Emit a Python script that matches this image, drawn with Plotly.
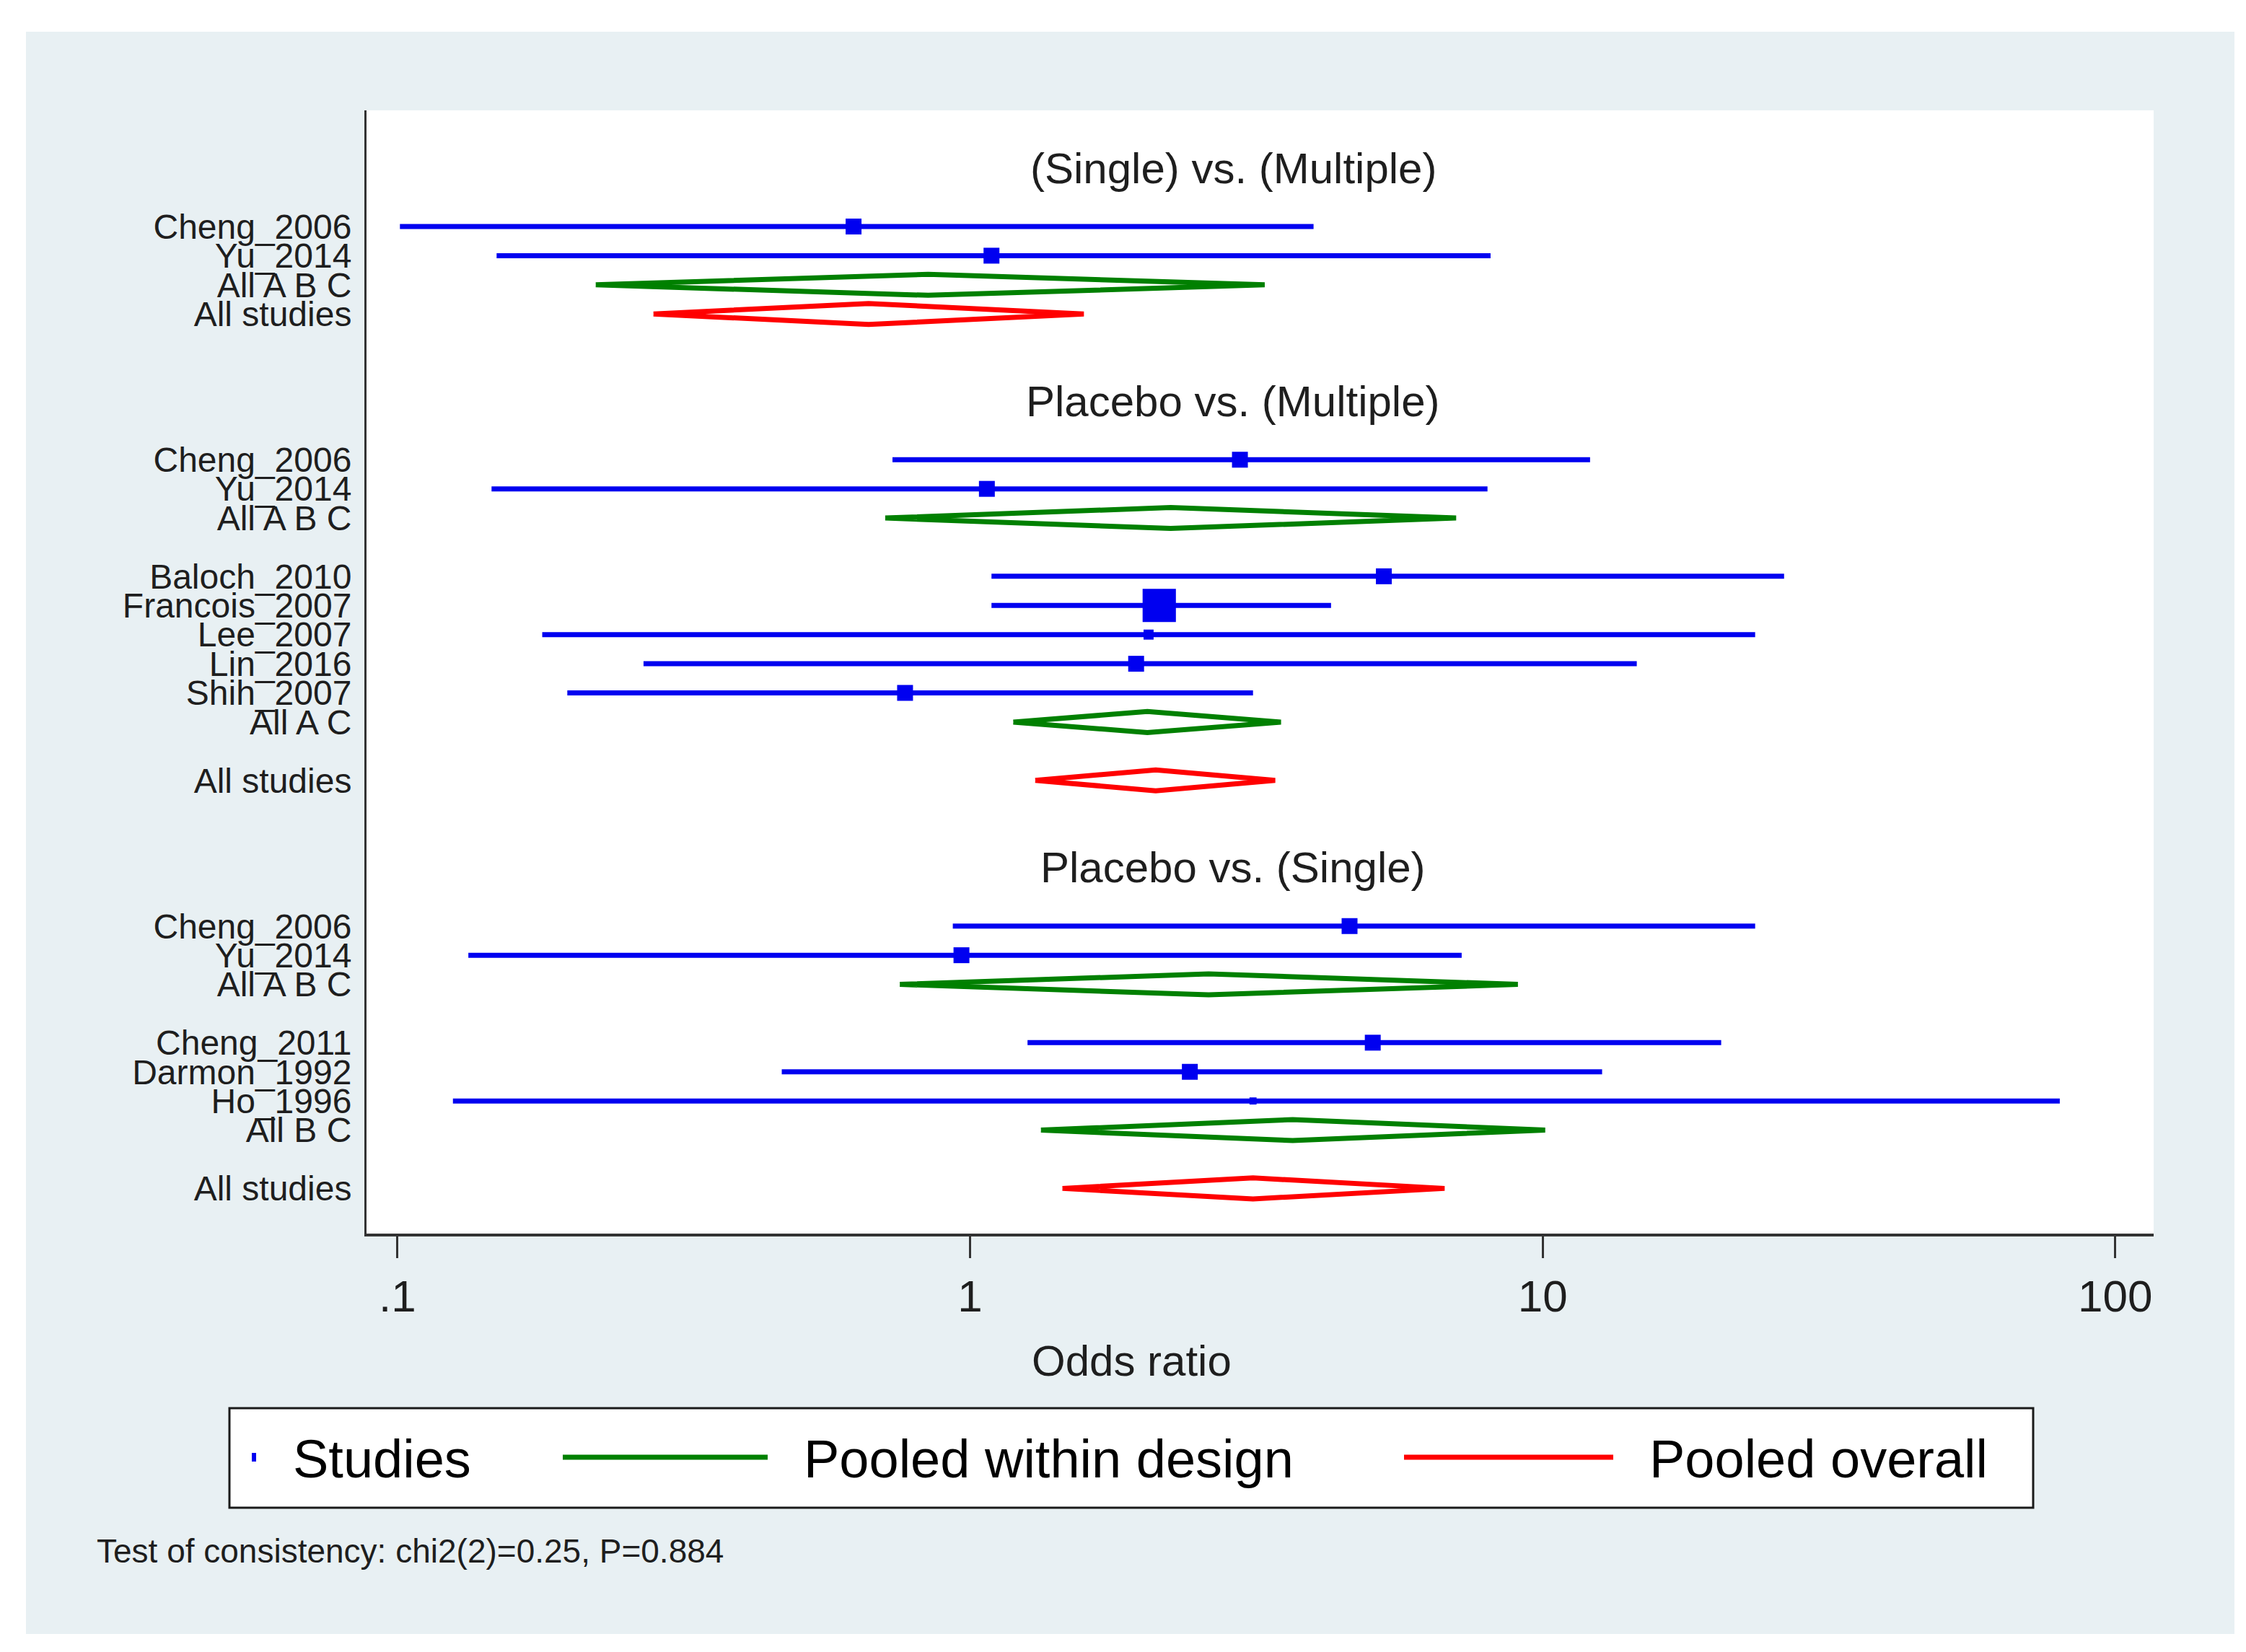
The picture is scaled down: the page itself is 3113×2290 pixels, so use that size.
#Network forest plot: odds ratios by comparison and design

import numpy as np
import plotly.graph_objects as go

#Section titles
titles = ["(Single) vs. (Multiple)", "Placebo vs. (Multiple)", "Placebo vs. (Single)"]

#(Single) vs. (Multiple), design A B C
s1_abc_names = ["Cheng_2006", "Yu_2014"]
s1_abc_or = [0.626, 1.09]
s1_abc_lo = [0.101, 0.149]
s1_abc_hi = [3.98, 8.11]
s1_abc_wt = [1.0, 1.0]
s1_abc_pool = [0.845, 0.222, 3.27]      # est, lo, hi
s1_all = [0.665, 0.280, 1.58]

#Placebo vs. (Multiple), design A B C
s2_abc_names = ["Cheng_2006", "Yu_2014"]
s2_abc_or = [2.96, 1.07]
s2_abc_lo = [0.732, 0.146]
s2_abc_hi = [12.1, 8.01]
s2_abc_wt = [1.0, 1.0]
s2_abc_pool = [2.24, 0.711, 7.06]

#Placebo vs. (Multiple), design A C
s2_ac_names = ["Baloch_2010", "Francois_2007", "Lee_2007", "Lin_2016", "Shih_2007"]
s2_ac_or = [5.28, 2.14, 2.05, 1.95, 0.77]
s2_ac_lo = [1.09, 1.09, 0.179, 0.269, 0.198]
s2_ac_hi = [26.4, 4.27, 23.5, 14.6, 3.12]
s2_ac_wt = [1.0, 4.4, 0.4, 1.0, 1.0]
s2_ac_pool = [2.04, 1.19, 3.49]
s2_all = [2.11, 1.30, 3.41]

#Placebo vs. (Single), design A B C
s3_abc_names = ["Cheng_2006", "Yu_2014"]
s3_abc_or = [4.60, 0.966]
s3_abc_lo = [0.933, 0.133]
s3_abc_hi = [23.5, 7.22]
s3_abc_wt = [1.0, 1.0]
s3_abc_pool = [2.61, 0.754, 9.05]

#Placebo vs. (Single), design B C
s3_bc_names = ["Cheng_2011", "Darmon_1992", "Ho_1996"]
s3_bc_or = [5.05, 2.42, 3.12]
s3_bc_lo = [1.26, 0.469, 0.125]
s3_bc_hi = [20.5, 12.7, 80.0]
s3_bc_wt = [1.0, 1.0, 0.2]
s3_bc_pool = [3.66, 1.33, 10.1]
s3_all = [3.12, 1.45, 6.74]

consistency = "Test of consistency: chi2(2)=0.25, P=0.884"

def group(names, ors, lo, hi, wt, pool, label):
    return dict(names=names, ors=ors, lo=lo, hi=hi, wt=wt, pool=pool, label=label)

sections = [
    (titles[0], [group(s1_abc_names, s1_abc_or, s1_abc_lo, s1_abc_hi, s1_abc_wt, s1_abc_pool, "All A B C")], s1_all),
    (titles[1], [group(s2_abc_names, s2_abc_or, s2_abc_lo, s2_abc_hi, s2_abc_wt, s2_abc_pool, "All A B C"),
                 group(s2_ac_names, s2_ac_or, s2_ac_lo, s2_ac_hi, s2_ac_wt, s2_ac_pool, "All A C")], s2_all),
    (titles[2], [group(s3_abc_names, s3_abc_or, s3_abc_lo, s3_abc_hi, s3_abc_wt, s3_abc_pool, "All A B C"),
                 group(s3_bc_names, s3_bc_or, s3_bc_lo, s3_bc_hi, s3_bc_wt, s3_bc_pool, "All B C")], s3_all),
]

BLUE = '#0000f0'
GREEN = '#008000'
RED = '#ff0000'
TXT = '#1e1e1e'
FONT = 'Liberation Sans, Arial, sans-serif'
H = 0.36   # diamond half height (rows)

#lay out rows
tickvals, ticktext, title_rows = [], [], []
ci_x, ci_y, pt_x, pt_y, pt_s = [], [], [], [], []
grn_x, grn_y, red_x, red_y = [], [], [], []

def diamond(xs, ys, est, lo, hi, r):
    xs += [lo, est, hi, est, lo, None]
    ys += [r, r - H, r, r + H, r, None]

row = -2
for title, groups, overall in sections:
    title_rows.append((row, title))
    row += 2
    for g in groups:
        for i in range(len(g["names"])):
            tickvals.append(row)
            ticktext.append(g["names"][i])
            ci_x += [g["lo"][i], g["hi"][i], None]
            ci_y += [row, row, None]
            pt_x.append(g["ors"][i])
            pt_y.append(row)
            pt_s.append(22 * np.sqrt(g["wt"][i]))
            row += 1
        tickvals.append(row)
        ticktext.append(g["label"])
        diamond(grn_x, grn_y, *g["pool"], row)
        row += 1
        if len(groups) > 1:
            row += 1
    tickvals.append(row)
    ticktext.append("All studies")
    diamond(red_x, red_y, *overall, row)
    row += 3

fig = go.Figure()

fig.add_trace(go.Scatter(x=ci_x, y=ci_y, mode='lines',
                         line=dict(color=BLUE, width=7), showlegend=False))
fig.add_trace(go.Scatter(x=pt_x, y=pt_y, mode='markers',
                         marker=dict(symbol='square', size=pt_s, color=BLUE, opacity=1, line_width=0),
                         showlegend=False))
fig.add_trace(go.Scatter(x=grn_x, y=grn_y, mode='lines',
                         line=dict(color=GREEN, width=7), showlegend=False))
fig.add_trace(go.Scatter(x=red_x, y=red_y, mode='lines',
                         line=dict(color=RED, width=7), showlegend=False))

#plot region is 508..2985 px wide, 153..1710 px tall
W, HT = 3113, 2290
L, R, T, B = 508, 2985, 153, 1710
def px(x):
    return (x - L) / (R - L)
def py(y):
    return (B - y) / (B - T)

annotations = []
for r, t in title_rows:
    annotations.append(dict(x=0.485, xref='paper', y=r, yref='y', text=t, showarrow=False,
                            xanchor='center', yanchor='middle',
                            font=dict(size=60, color=TXT, family=FONT)))

annotations.append(dict(x=px(1568), y=py(1886), xref='paper', yref='paper', text="Odds ratio",
                        xanchor='center', yanchor='middle',
                        showarrow=False, font=dict(size=60, color=TXT, family=FONT)))

#legend built by hand
leg_items = [("Studies", 404), ("Pooled within design", 1112), ("Pooled overall", 2284)]
for txt, x0 in leg_items:
    annotations.append(dict(x=px(x0), y=py(2022), xref='paper', yref='paper', text=txt,
                            xanchor='left', yanchor='middle', showarrow=False,
                            font=dict(size=74, color='#000000', family=FONT)))

annotations.append(dict(x=px(132), y=py(2150), xref='paper', yref='paper', text=consistency,
                        xanchor='left', yanchor='middle', showarrow=False,
                        font=dict(size=46, color=TXT, family=FONT)))

shapes = [
    # outer graph background
    dict(type='rect', xref='paper', yref='paper', x0=px(36), x1=px(3097), y0=py(2265), y1=py(44),
         fillcolor='#e8f0f3', line_width=0, layer='below'),
    # plot region
    dict(type='rect', xref='paper', yref='paper', x0=0, x1=1, y0=0, y1=1,
         fillcolor='white', line_width=0, layer='below'),
    # legend box
    dict(type='rect', xref='paper', yref='paper', x0=px(318), x1=px(2818), y0=py(2090), y1=py(1952),
         fillcolor='white', line=dict(color='#1a1a1a', width=3)),
    # legend keys
    dict(type='rect', xref='paper', yref='paper', xsizemode='pixel', ysizemode='pixel',
         xanchor=px(352), yanchor=py(2020), x0=-3, x1=3, y0=-6, y1=6,
         fillcolor=BLUE, line_width=0),
    dict(type='line', xref='paper', yref='paper', x0=px(780), x1=px(1064), y0=py(2020), y1=py(2020),
         line=dict(color=GREEN, width=7)),
    dict(type='line', xref='paper', yref='paper', x0=px(1946), x1=px(2236), y0=py(2020), y1=py(2020),
         line=dict(color=RED, width=7)),
]

fig.update_layout(
    width=W, height=HT,
    margin=dict(l=L, r=W - R, t=T, b=HT - B),
    paper_bgcolor='white',
    plot_bgcolor='white',
    font=dict(family=FONT, color=TXT),
    showlegend=False,
    annotations=annotations,
    shapes=shapes,
    xaxis=dict(
        type='log', range=[-1.054, 2.067],
        tickvals=[0.1, 1, 10, 100], ticktext=[".1", "1", "10", "100"],
        ticks='outside', ticklen=30, tickwidth=3, tickcolor='#333333',
        showline=True, linecolor='#333333', linewidth=4,
        showgrid=False, zeroline=False,
        tickfont=dict(size=62, color=TXT, family=FONT),
    ),
    yaxis=dict(
        range=[34.55, -3.985], autorange=False,
        tickvals=tickvals, ticktext=ticktext,
        ticks='', showline=True, linecolor='#333333', linewidth=3,
        showgrid=False, zeroline=False, ticklabelstandoff=8,
        tickfont=dict(size=48, color=TXT, family=FONT),
    ),
)

fig.write_html("out.html", config={'displayModeBar': False},
               post_script="document.body.style.margin='0';")
